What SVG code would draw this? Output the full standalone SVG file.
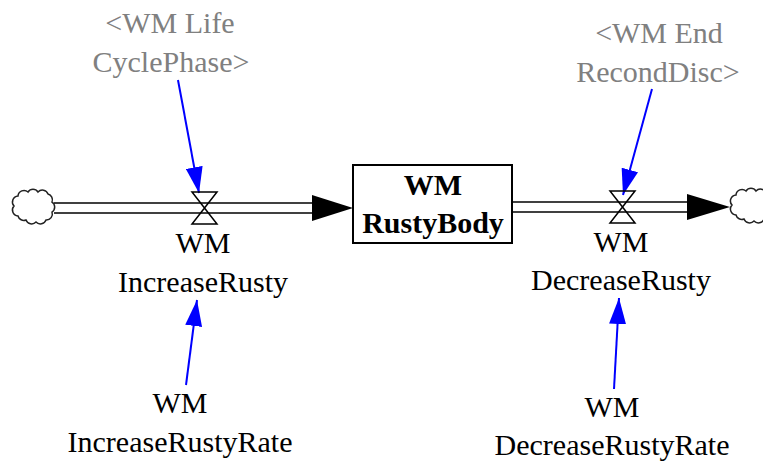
<svg xmlns="http://www.w3.org/2000/svg" width="763" height="464" viewBox="0 0 763 464">
<style>
text{font-family:"Liberation Serif","Times New Roman",serif;font-size:30px;text-anchor:middle;fill:#000}
.g{fill:#808080}
.b{font-weight:bold}
.pipe{stroke:#000;stroke-width:1.6;fill:none}
.valve{stroke:#000;stroke-width:1.5;fill:none}
.cloud{stroke:#222;stroke-width:1.5;fill:none}
.link{stroke:#0000FF;stroke-width:2;fill:none;marker-end:url(#ba)}
</style>
<defs>
<marker id="ba" viewBox="0 0 26 17" refX="26" refY="8.5" markerWidth="26" markerHeight="17" markerUnits="userSpaceOnUse" orient="auto">
<path d="M0,0 L26,8.5 L0,17 z" fill="#0000FF"/>
</marker>
</defs>
<g id="source-cloud">
<path class="cloud" d="M18 196 a6 6 0 0 1 10 -4 a6 6 0 0 1 10 0 a6 6 0 0 1 10 2 a6 6 0 0 1 4 8 a6 6 0 0 1 0 10 a6 6 0 0 1 -6 8 a6 6 0 0 1 -10 2 a6 6 0 0 1 -10 -2 a6 6 0 0 1 -8 -4 a6 6 0 0 1 -4 -10 a6 6 0 0 1 4 -10 z"/>
</g>
<g id="sink-cloud">
<path class="cloud" d="M736 195 a6 6 0 0 1 10 -4 a6 6 0 0 1 10 0 a6 6 0 0 1 10 2 a6 6 0 0 1 4 8 a6 6 0 0 1 0 10 a6 6 0 0 1 -6 8 a6 6 0 0 1 -10 2 a6 6 0 0 1 -10 -2 a6 6 0 0 1 -8 -4 a6 6 0 0 1 -4 -10 a6 6 0 0 1 4 -10 z"/>
</g>
<g id="connectors">
<line class="pipe" x1="54" y1="203" x2="318" y2="203"/>
<line class="pipe" x1="54" y1="213" x2="318" y2="213"/>
<path d="M312,195 L353,208 L312,221 z" fill="#000"/>
<line class="pipe" x1="512" y1="202" x2="692" y2="202"/>
<line class="pipe" x1="512" y1="212" x2="692" y2="212"/>
<path d="M687,194 L730,207 L687,220 z" fill="#000"/>
<line class="link" x1="178" y1="80" x2="199" y2="193"/>
<line class="link" x1="652" y1="89" x2="623" y2="195"/>
<line class="link" x1="186" y1="385" x2="197" y2="300"/>
<line class="link" x1="614" y1="389" x2="619" y2="298"/>
</g>
<g id="stock-rustybody">
<rect x="353" y="165" width="159" height="78" fill="#fff" stroke="#000" stroke-width="2"/>
<text class="b" x="433" y="195">WM</text>
<text class="b" x="433" y="233">RustyBody</text>
</g>
<g id="flow-increase">
<path class="valve" d="M192 192 L217 192 L204.5 208 Z M192 224 L217 224 L204.5 208 Z"/>
<text x="203" y="253">WM</text>
<text x="203" y="292">IncreaseRusty</text>
</g>
<g id="flow-decrease">
<path class="valve" d="M610 191 L635 191 L622.5 207 Z M610 223 L635 223 L622.5 207 Z"/>
<text x="621" y="252">WM</text>
<text x="621" y="290">DecreaseRusty</text>
</g>
<g id="shadow-lifecyclephase">
<text class="g" x="170" y="33">&lt;WM Life</text>
<text class="g" x="171" y="72">CyclePhase&gt;</text>
</g>
<g id="shadow-endrecond">
<text class="g" x="659" y="43">&lt;WM End</text>
<text class="g" x="658" y="82">RecondDisc&gt;</text>
</g>
<g id="aux-increaserate">
<text x="180" y="413">WM</text>
<text x="180" y="452">IncreaseRustyRate</text>
</g>
<g id="aux-decreaserate">
<text x="612" y="417">WM</text>
<text x="612" y="455">DecreaseRustyRate</text>
</g>
</svg>
